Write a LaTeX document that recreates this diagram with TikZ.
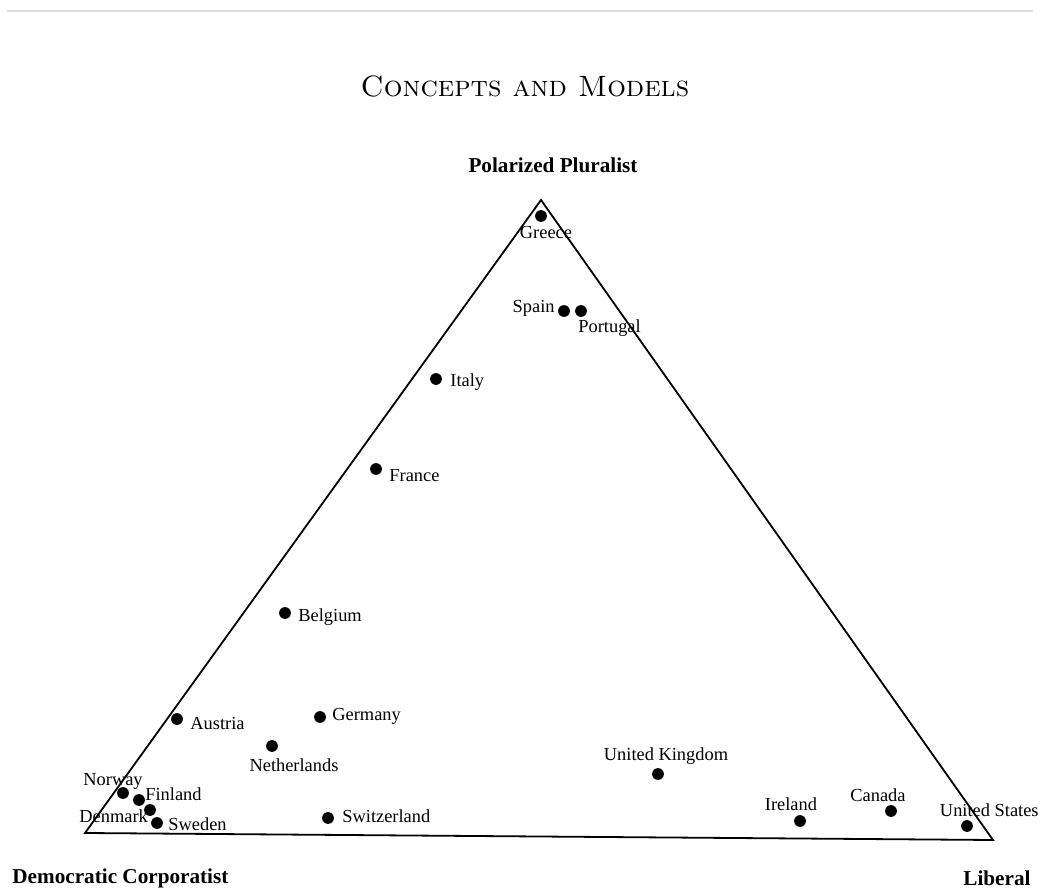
\documentclass[tikz,border=0pt]{standalone}
\usepackage{fontspec}
\newfontfamily\timesfont{Liberation Serif}
\usetikzlibrary{positioning}

\tikzset{
  dot/.style={circle,fill=black,inner sep=0pt,minimum size=5.9pt},
  country/.style={font=\timesfont\fontsize{9.2}{11}\selectfont,inner sep=0pt},
  corner/.style={font=\timesfont\bfseries\fontsize{10.6}{12}\selectfont,inner sep=0pt}
}

\begin{document}
\begin{tikzpicture}[x=0.5pt,y=-0.5pt]
  \clip (0,0) rectangle (1041,888);
  \fill[white] (0,0) rectangle (1041,888);
  \draw[black!13,line width=1.1pt] (7,11) -- (1033,11);

  % heading
  \node (title) at (525,86) {\fontsize{14.7}{17}\selectfont\textsc{Concepts and Models}};

  % the three ideal types
  \coordinate (pp) at (541,200);
  \coordinate (dc) at (85,833);
  \coordinate (lib) at (993,840);
  \draw[line width=0.9pt] (pp) -- (dc) -- (lib) -- cycle;
  \node[corner] (pplab) at (553,165) {Polarized Pluralist};
  \node[corner,anchor=west] (dclab) at (12,878) {Democratic Corporatist};
  \node[corner,anchor=west] (liblab) at (963,878) {Liberal};

  % countries
  \node[dot] (greece) at (541,216) {};
  \node[country] (greecelab) at (546,232) {Greece};
  \node[dot] (spain) at (564,311) {};
  \node[country,anchor=east] (spainlab) at (555,308) {Spain};
  \node[dot] (portugal) at (581,311) {};
  \node[country,anchor=west] (portugallab) at (578,328) {Portugal};
  \node[dot] (italy) at (436,379) {};
  \node[country,anchor=west] (italylab) at (450,382) {Italy};
  \node[dot] (france) at (376,469) {};
  \node[country,anchor=west] (francelab) at (389,476) {France};
  \node[dot] (belgium) at (285,613) {};
  \node[country,anchor=west] (belgiumlab) at (298,617) {Belgium};
  \node[dot] (austria) at (177,719) {};
  \node[country,anchor=west] (austrialab) at (190,723) {Austria};
  \node[dot] (germany) at (320,717) {};
  \node[country,anchor=west] (germanylab) at (332,716) {Germany};
  \node[dot] (netherlands) at (272,746) {};
  \node[country] (netherlandslab) at (294,765) {Netherlands};
  \node[dot] (switzerland) at (328,818) {};
  \node[country,anchor=west] (switzerlandlab) at (342,816) {Switzerland};
  \node[dot] (norway) at (123,793) {};
  \node[country,anchor=west] (norwaylab) at (83,781) {Norway};
  \node[dot] (finland) at (139,800) {};
  \node[country,anchor=west] (finlandlab) at (145,794) {Finland};
  \node[dot] (denmark) at (150,810) {};
  \node[country,anchor=west] (denmarklab) at (79,816) {Denmark};
  \node[dot] (sweden) at (157,823) {};
  \node[country,anchor=west] (swedenlab) at (168,824) {Sweden};
  \node[dot] (uk) at (658,774) {};
  \node[country] (uklab) at (666,756) {United Kingdom};
  \node[dot] (ireland) at (800,821) {};
  \node[country] (irelandlab) at (791,804) {Ireland};
  \node[dot] (canada) at (891,811) {};
  \node[country] (canadalab) at (878,795) {Canada};
  \node[dot] (usa) at (967,826) {};
  \node[country,anchor=east] (usalab) at (1039,810) {United States};
\end{tikzpicture}
\end{document}
